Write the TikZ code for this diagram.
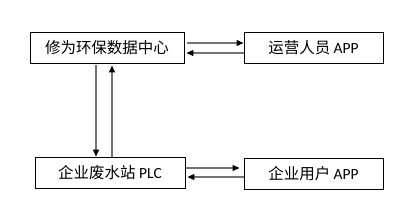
\documentclass[tikz,border=0pt]{standalone}
\usepackage{fontspec}
\setmainfont{Carlito}
\newfontfamily\cjk{Noto Sans CJK SC}
\usetikzlibrary{arrows.meta}
\tikzset{
  box/.style={draw=black, line width=0.9pt, fill=white, inner sep=0pt, font=\fontsize{15.5}{18}\selectfont},
  arr/.style={draw=black!55, line width=1.1pt, -{Triangle[length=7pt,width=6pt,fill=black,color=black]}},
}
\begin{document}
\begin{tikzpicture}[x=1pt,y=-1pt]
\useasboundingbox[fill=white] (0,0) rectangle (399,201);
\node[box, minimum width=154pt, minimum height=31pt] (b1) at (107,47.5) {\cjk 修为环保数据中心};
\node[box, minimum width=139pt, minimum height=31pt] (b2) at (313.5,47.5) {\cjk 运营人员\ \normalfont APP};
\node[box, minimum width=150pt, minimum height=31pt] (b3) at (110,172.5) {\cjk 企业废水站\ \normalfont PLC};
\node[box, minimum width=139pt, minimum height=31pt] (b4) at (313.5,173.5) {\cjk 企业用户\ \normalfont APP};
\draw[arr, shorten <=3pt] (b1.east |- 0,43) -- (b2.west |- 0,43);
\draw[arr, shorten >=2pt] (b2.west |- 0,53) -- (b1.east |- 0,53);
\draw[arr, shorten <=2pt] (b1.south -| 96,0) -- (b3.north -| 96,0);
\draw[arr, shorten >=2pt] (b3.north -| 112,0) -- (b1.south -| 112,0);
\draw[arr, shorten <=1pt, shorten >=4pt] (b3.east |- 0,168) -- (b4.west |- 0,168);
\draw[arr, shorten >=2pt] (b4.west |- 0,177) -- (b3.east |- 0,177);
\end{tikzpicture}
\end{document}
